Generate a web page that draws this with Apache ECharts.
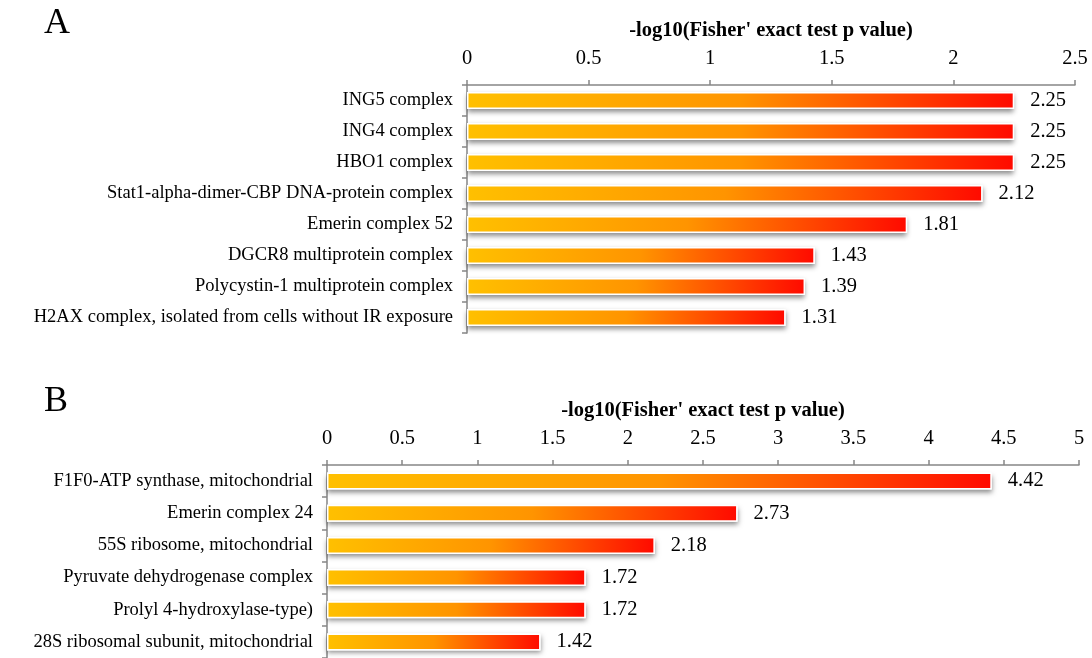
<!DOCTYPE html>
<html>
<head>
<meta charset="utf-8">
<script src="https://cdn.jsdelivr.net/npm/echarts@6/dist/echarts.min.js"></script>
<style>
  html, body { margin: 0; padding: 0; background: #fff; }
  #chart { width: 1092px; height: 658px; }
</style>
</head>
<body>
<div id="chart"></div>
<script>
// Panel A: protein complexes
const categoriesA = [
  'ING5 complex',
  'ING4 complex',
  'HBO1 complex',
  'Stat1-alpha-dimer-CBP DNA-protein complex',
  'Emerin complex 52',
  'DGCR8 multiprotein complex',
  'Polycystin-1 multiprotein complex',
  'H2AX complex, isolated from cells without IR exposure'
];
const valuesA = [2.25, 2.25, 2.25, 2.12, 1.81, 1.43, 1.39, 1.31];

// Panel B: protein complexes
const categoriesB = [
  'F1F0-ATP synthase, mitochondrial',
  'Emerin complex 24',
  '55S ribosome, mitochondrial',
  'Pyruvate dehydrogenase complex',
  'Prolyl 4-hydroxylase-type)',
  '28S ribosomal subunit, mitochondrial'
];
const valuesB = [4.42, 2.73, 2.18, 1.72, 1.72, 1.42];

const axisTitle = "-log10(Fisher' exact test p value)";
const panelLetters = ['A', 'B'];

const FONT = '"Liberation Serif", "Times New Roman", serif';
const AXIS_GREY = '#868686';
const BAR_W = 17;

const chart = echarts.init(document.getElementById('chart'), null, { renderer: 'canvas' });

const barFill = new echarts.graphic.LinearGradient(0, 0, 1, 0, [
  { offset: 0, color: '#FFC000' },
  { offset: 0.5, color: '#FF9400' },
  { offset: 1, color: '#FF0A00' }
]);

function xAxisDef(gridIndex, max) {
  return {
    type: 'value',
    gridIndex,
    position: 'top',
    min: 0,
    max,
    interval: 0.5,
    name: axisTitle,
    nameLocation: 'middle',
    nameGap: 44,
    nameTextStyle: { fontFamily: FONT, fontSize: 20.5, fontWeight: 'bold', color: '#000' },
    axisLine: { show: true, lineStyle: { color: AXIS_GREY, width: 1.5 } },
    axisTick: { show: true, length: 5, lineStyle: { color: AXIS_GREY, width: 1.5 } },
    axisLabel: { fontFamily: FONT, fontSize: 20.5, color: '#000', margin: 16 },
    splitLine: { show: false }
  };
}

function yAxisDef(gridIndex, cats) {
  return {
    type: 'category',
    gridIndex,
    data: cats,
    inverse: true,
    axisLine: { show: true, lineStyle: { color: AXIS_GREY, width: 1.5 } },
    axisTick: { show: true, length: 5, lineStyle: { color: AXIS_GREY, width: 1.5 } },
    axisLabel: { fontFamily: FONT, fontSize: 18.5, color: '#000', margin: 14 }
  };
}

// A soft drop shadow drawn beneath each bar
function shadowSeries(index, values) {
  return {
    type: 'bar',
    xAxisIndex: index,
    yAxisIndex: index,
    data: values,
    barWidth: BAR_W,
    silent: true,
    itemStyle: {
      color: '#fff',
      shadowColor: 'rgba(0,0,0,0.45)',
      shadowBlur: 5,
      shadowOffsetX: 0,
      shadowOffsetY: 3
    }
  };
}

// Gradient bar with a thin white outline and value label
function barSeries(index, values) {
  return {
    type: 'bar',
    xAxisIndex: index,
    yAxisIndex: index,
    data: values,
    barWidth: BAR_W,
    barGap: '-100%',
    itemStyle: {
      color: barFill,
      borderColor: '#fff',
      borderWidth: 1.5
    },
    label: {
      show: true,
      position: 'right',
      distance: 16,
      fontFamily: FONT,
      fontSize: 20.5,
      color: '#000',
      formatter: p => p.value.toFixed(2)
    }
  };
}

chart.setOption({
  animation: false,
  backgroundColor: '#fff',
  grid: [
    { left: 467, top: 85, width: 608, height: 248 },
    { left: 327, top: 465, width: 752, height: 195 }
  ],
  xAxis: [xAxisDef(0, 2.5), xAxisDef(1, 5)],
  yAxis: [yAxisDef(0, categoriesA), yAxisDef(1, categoriesB)],
  series: [
    shadowSeries(0, valuesA), barSeries(0, valuesA),
    shadowSeries(1, valuesB), barSeries(1, valuesB)
  ],
  graphic: [
    { type: 'text', left: 44, top: 6, style: { text: panelLetters[0], font: '36px ' + FONT, fill: '#000' } },
    { type: 'text', left: 44, top: 384, style: { text: panelLetters[1], font: '36px ' + FONT, fill: '#000' } }
  ]
});
</script>
</body>
</html>
